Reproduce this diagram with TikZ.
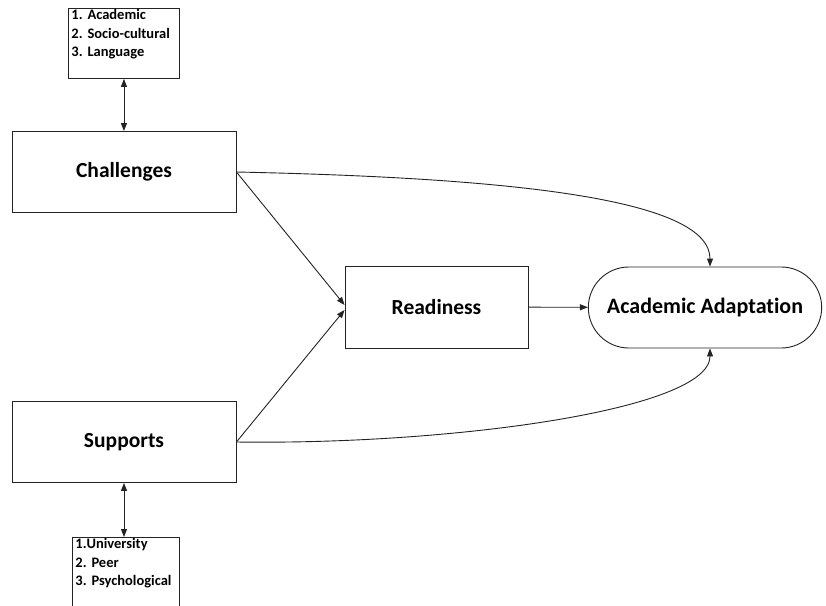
\documentclass[tikz,border=0pt]{standalone}
\usepackage{fontspec}
\setmainfont{Carlito}[Ligatures=NoCommon]
\usepackage{xcolor}
\usetikzlibrary{shapes.misc, arrows.meta, positioning}
\definecolor{lineGray}{RGB}{35, 35, 35}
\frenchspacing

\begin{document}
\begin{tikzpicture}[x=1pt, y=-1pt,
    factorbox/.style={draw=lineGray, line width=0.9pt, minimum width=224pt, minimum height=81pt, font=\bfseries\fontsize{21.5}{25}\selectfont},
    listbox/.style={draw=lineGray, line width=0.9pt, anchor=north west, align=left, inner sep=3pt, text height=8.5pt, font=\bfseries\fontsize{14.5}{18.3}\selectfont},
    arr/.style={draw=lineGray, line width=0.9pt, -{Triangle[length=8pt, width=6pt]}},
    dblarr/.style={draw=lineGray, line width=0.9pt, {Triangle[length=8pt, width=6pt]}-{Triangle[length=8pt, width=6pt]}}]
    \useasboundingbox (0,0) rectangle (826,605);

    % Factors
    \node[factorbox] at (124,172) (chal) {Challenges};
    \node[factorbox] at (124,442) (supp) {Supports};

    % Lists
    \node[listbox, text width=105pt, text depth=55.5pt] at (68,8) (chlist) {1. Academic\\2. Socio-cultural\\3. Language};
    \node[listbox, text width=101pt, text depth=64pt] at (72,537) (splist) {1.University\\2. Peer\\3. Psychological};

    % Mediator and outcome
    \node[factorbox, minimum width=183pt, minimum height=82pt] at (436.5,307) (ready) {Readiness};
    \node[draw=lineGray, line width=0.9pt, rounded rectangle, minimum width=240pt, minimum height=81pt, font=\bfseries\fontsize{22}{26}\selectfont] at (705,307.5) (adapt) {Academic Adaptation};

    % Arrows
    \draw[dblarr] (chlist.south) -- (chlist.south |- chal.north);
    \draw[dblarr] (supp.south) -- (supp.south |- splist.north);
    \draw[arr] (chal.east) -- ([yshift=2pt]ready.west);
    \draw[arr] (supp.east) -- ([yshift=-3pt]ready.west);
    \draw[arr] (ready) -- (adapt);
    \draw[arr] (chal.east) .. controls (520,178) and (710,200) .. ([xshift=5pt]adapt.north);
    \draw[arr] (supp.east) .. controls (450,445) and (710,410) .. ([xshift=5pt]adapt.south);
\end{tikzpicture}
\end{document}
